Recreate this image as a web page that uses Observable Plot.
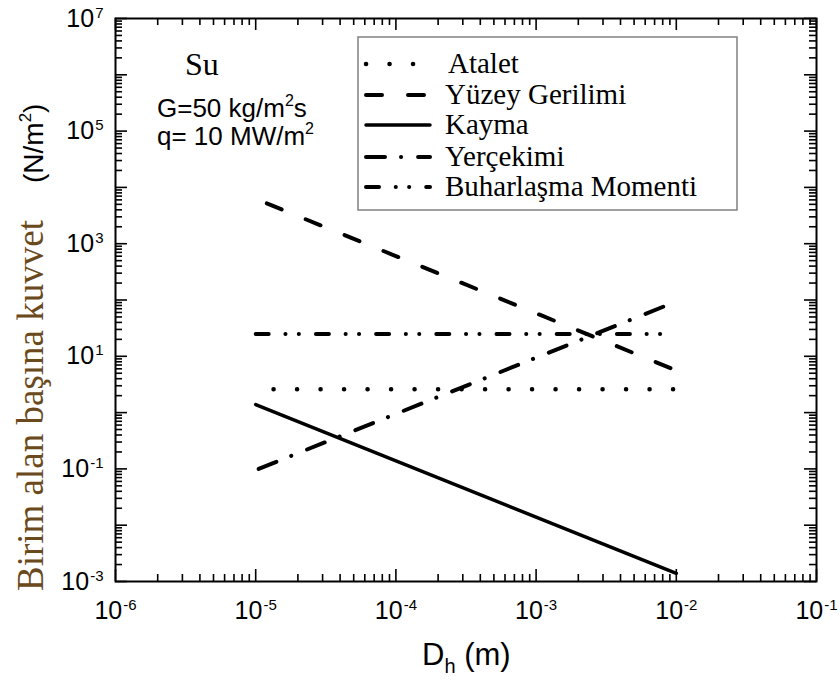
<!DOCTYPE html>
<html><head><meta charset="utf-8">
<script src="https://cdn.jsdelivr.net/npm/d3@7"></script>
<script src="https://cdn.jsdelivr.net/npm/@observablehq/plot@0.6"></script>
<style>body{margin:0;background:#fff}#chart{position:relative;width:840px;height:680px}</style>
</head><body><div id="chart"></div>
<script>
// ---- data ----
const xTickValues = [1e-6, 1e-5, 1e-4, 1e-3, 1e-2, 1e-1];
const yDecadeValues = [1e-3, 1e-2, 1e-1, 1e0, 1e1, 1e2, 1e3, 1e4, 1e5, 1e6, 1e7];
const yLabelValues = [1e-3, 1e-1, 1e1, 1e3, 1e5, 1e7];
const seriesNames = ["Atalet", "Yüzey Gerilimi", "Kayma", "Yerçekimi", "Buharlaşma Momenti"];
const ataletX = [1.34e-5, 1e-2], ataletY = [2.6, 2.6];
const yuzeyX = [1.2e-5, 1e-2], yuzeyY = [5200, 5.6];
const kaymaX = [1e-5, 1e-2], kaymaY = [1.39, 1.39e-3];
const yercekimiX = [1.05e-5, 1e-2], yercekimiY = [0.1, 94];
const buharX = [1e-5, 1e-2], buharY = [25, 25];

// ---- styles ----
const seriesStyle = {
  "Atalet": {w: 4.5, dash: "0.1 23.4", cap: "round"},
  "Yüzey Gerilimi": {w: 4, dash: "16 26", cap: "round"},
  "Kayma": {w: 3.5, dash: null, cap: "round"},
  "Yerçekimi": {w: 4, dash: "19 16 0.1 17", cap: "round"},
  "Buharlaşma Momenti": {w: 4, dash: "13 16.7 0.1 13.3 0.1 17", cap: "round"}
};
const seriesData = [
  [ataletX, ataletY], [yuzeyX, yuzeyY], [kaymaX, kaymaY], [yercekimiX, yercekimiY], [buharX, buharY]
];

const W = 840, H = 680, mL = 115, mR = 24, mT = 18, mB = 99;
const iW = W - mL - mR, iH = H - mT - mB;
const majorLen = 12, minorLen = 7;

function minors(lo, hi) {
  const out = [];
  for (let e = lo; e < hi; e++) for (let k = 2; k <= 9; k++) out.push(k * Math.pow(10, e));
  return out;
}
const xMinor = minors(-6, -1);
const yMinor = minors(-3, 7);
const fmt = d => "10^" + Math.round(Math.log10(d));

const lineMarks = seriesNames.map((name, i) => {
  const [xs, ys] = seriesData[i];
  const s = seriesStyle[name];
  return Plot.line(xs.map((x, j) => ({x, y: ys[j]})), {
    x: "x", y: "y", stroke: "black", strokeWidth: s.w,
    strokeDasharray: s.dash || undefined, strokeLinecap: s.cap
  });
});

const tickStyle = {stroke: "black", strokeWidth: 1.6};
const svg = Plot.plot({
  width: W, height: H,
  marginLeft: mL, marginRight: mR, marginTop: mT, marginBottom: mB,
  style: {fontFamily: "'Liberation Sans', Arial, sans-serif", background: "white", color: "black", overflow: "visible"},
  x: {type: "log", domain: [1e-6, 1e-1]},
  y: {type: "log", domain: [1e-3, 1e7]},
  marks: [
    Plot.tickX(xTickValues, {x: d => d, insetTop: iH - majorLen, ...tickStyle}),
    Plot.tickX(xMinor, {x: d => d, insetTop: iH - minorLen, ...tickStyle}),
    Plot.tickX(xTickValues, {x: d => d, insetBottom: iH - majorLen, ...tickStyle}),
    Plot.tickX(xMinor, {x: d => d, insetBottom: iH - minorLen, ...tickStyle}),
    Plot.tickY(yDecadeValues, {y: d => d, insetRight: iW - majorLen, ...tickStyle}),
    Plot.tickY(yMinor, {y: d => d, insetRight: iW - minorLen, ...tickStyle}),
    Plot.tickY(yDecadeValues, {y: d => d, insetLeft: iW - majorLen, ...tickStyle}),
    Plot.tickY(yMinor, {y: d => d, insetLeft: iW - minorLen, ...tickStyle}),
    ...lineMarks,
    Plot.axisX(xTickValues, {tickSize: 0, tickPadding: 20, tickFormat: fmt, fontSize: 25, label: null}),
    Plot.axisY(yLabelValues, {tickSize: 0, tickPadding: 12, tickFormat: fmt, fontSize: 25, label: null}),
    Plot.frame({stroke: "black", strokeWidth: 2})
  ]
});
document.getElementById("chart").appendChild(svg);

const NS = "http://www.w3.org/2000/svg";
svg.querySelectorAll('g[aria-label="x-axis tick label"] text, g[aria-label="y-axis tick label"] text').forEach(t => {
  const [b, e] = t.textContent.split("^");
  t.textContent = "";
  const t1 = document.createElementNS(NS, "tspan"); t1.textContent = b; t.appendChild(t1);
  const t2 = document.createElementNS(NS, "tspan");
  t2.setAttribute("dy", "-9"); t2.setAttribute("font-size", "15"); t2.setAttribute("dx", "1");
  t2.textContent = e; t.appendChild(t2);
});

// ---- overlay: annotations, legend, axis titles ----
const g = d3.select(svg).append("g").attr("text-anchor", "start");
const serif = "'Liberation Serif', 'Times New Roman', serif";
const sans = "'Liberation Sans', Arial, sans-serif";

g.append("text").attr("x", 185).attr("y", 75).attr("font-family", serif).attr("font-size", 32).text("Su");
const t1 = g.append("text").attr("x", 157).attr("y", 117).attr("font-family", sans).attr("font-size", 26);
t1.append("tspan").text("G=50 kg/m");
t1.append("tspan").attr("dy", -11).attr("font-size", 16).text("2");
t1.append("tspan").attr("dy", 11).text("s");
const t2 = g.append("text").attr("x", 157).attr("y", 145).attr("font-family", sans).attr("font-size", 26);
t2.append("tspan").text("q= 10 MW/m");
t2.append("tspan").attr("dy", -11).attr("font-size", 16).text("2");

// legend
g.append("rect").attr("x", 358).attr("y", 37).attr("width", 379).attr("height", 173)
  .attr("fill", "white").attr("stroke", "#808080").attr("stroke-width", 1.5);
const rowY = [64, 95, 125, 157, 187];
seriesNames.forEach((name, i) => {
  const s = seriesStyle[name];
  g.append("line").attr("x1", 366).attr("x2", 430).attr("y1", rowY[i]).attr("y2", rowY[i])
    .attr("stroke", "black").attr("stroke-width", s.w).attr("stroke-linecap", s.cap)
    .attr("stroke-dasharray", s.dash);
  g.append("text").attr("x", i === 0 ? 448 : 445).attr("y", rowY[i] + 9)
    .attr("font-family", serif).attr("font-size", 29).text(name);
});

// y title
g.append("text").attr("transform", "translate(43,591) rotate(-90)")
  .attr("font-family", serif).attr("font-size", 37).attr("fill", "#6a4a1c")
  .text("Birim alan başına kuvvet");
const yt = g.append("text").attr("transform", "translate(43,183) rotate(-90)")
  .attr("font-family", sans).attr("font-size", 28);
yt.append("tspan").text("(N/m");
yt.append("tspan").attr("dy", -12).attr("font-size", 17).text("2");
yt.append("tspan").attr("dy", 12).text(")");

// x title
const xt = g.append("text").attr("x", 422).attr("y", 665).attr("font-family", sans).attr("font-size", 31);
xt.append("tspan").text("D");
xt.append("tspan").attr("dy", 8).attr("font-size", 20).text("h");
xt.append("tspan").attr("dy", -8).text(" (m)");
</script></body></html>
